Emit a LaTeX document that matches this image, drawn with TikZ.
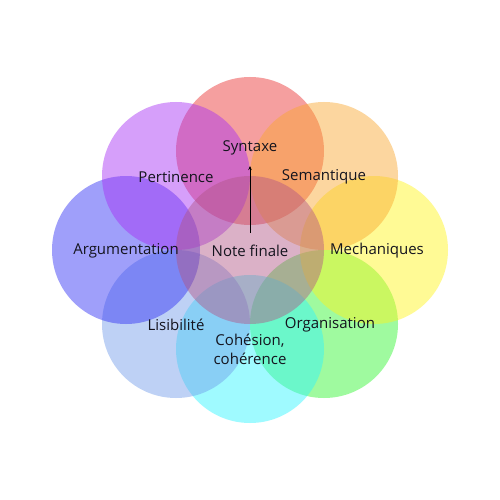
\documentclass[tikz,border=0pt]{standalone}
\usepackage{fontspec}
\setmainfont{Open Sans}
\usetikzlibrary{arrows.meta}
\definecolor{cSyn}{RGB}{233,44,44}
\definecolor{cSem}{RGB}{250,166,44}
\definecolor{cMec}{RGB}{255,244,22}
\definecolor{cOrg}{RGB}{44,244,44}
\definecolor{cCoh}{RGB}{44,244,255}
\definecolor{cLis}{RGB}{111,155,233}
\definecolor{cArg}{RGB}{44,44,244}
\definecolor{cPer}{RGB}{166,44,244}
\definecolor{cCen}{RGB}{177,84,133}
\definecolor{txt}{RGB}{20,20,30}
\tikzset{
  bubble/.style={circle, draw=none, minimum size=148pt, inner sep=0pt, fill opacity=0.45},
  lbl/.style={font=\fontsize{15}{19}\selectfont, text=txt, align=center, inner sep=0pt},
}
\begin{document}
\begin{tikzpicture}[x=1pt,y=-1pt]
\useasboundingbox (0,0) rectangle (500,500);
\fill[white] (0,0) rectangle (500,500);
% circles
\node[bubble, fill=cSyn] (syn) at (250,151) {};
\node[bubble, fill=cOrg] (org) at (324,324) {};
\node[bubble, fill=cMec] (mec) at (374,250) {};
\node[bubble, fill=cSem] (sem) at (324,176) {};
\node[bubble, fill=cCoh] (coh) at (250,349) {};
\node[bubble, fill=cLis] (lis) at (176,324) {};
\node[bubble, fill=cArg] (arg) at (126,250) {};
\node[bubble, fill=cPer] (per) at (176,176) {};
\node[bubble, fill=cCen] (cen) at (250,250) {};
% labels
\node[lbl] (tsyn) at (250,148) {Syntaxe};
\node[lbl] (tper) at (176,177) {Pertinence};
\node[lbl] (tsem) at (324,177) {Semantique};
\node[lbl] (targ) at (126,251) {Argumentation};
\node[lbl] (tcen) at (250,251) {Note finale};
\node[lbl] (tmec) at (377,251) {Mechaniques};
\node[lbl] (tlis) at (176,325) {Lisibilité};
\node[lbl] (torg) at (330,325) {Organisation};
\node[lbl] (tcoh) at (250,349.5) {Cohésion,\\cohérence};
% arrow
\coordinate (abot) at (250,233);
\coordinate (atop) at (250,166);
\draw[line width=0.9pt, black, -{Stealth[length=4pt,width=3.5pt]}] (abot) -- (atop);
\end{tikzpicture}
\end{document}
